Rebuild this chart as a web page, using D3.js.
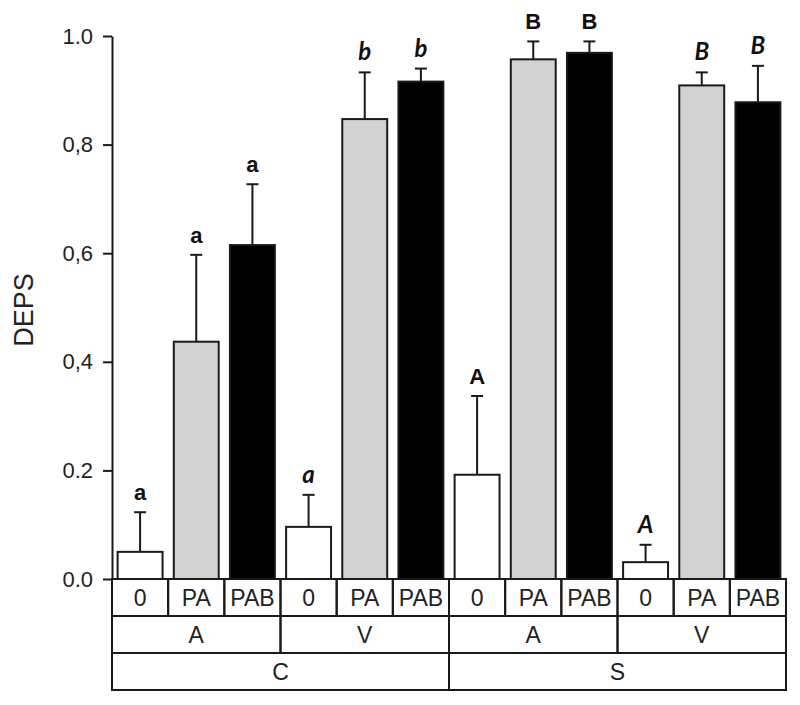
<!DOCTYPE html>
<html>
<head>
<meta charset="utf-8">
<script src="https://cdn.jsdelivr.net/npm/d3@7"></script>
<style>
  body { margin: 0; background: #fff; }
  svg { display: block; font-family: "Liberation Sans", Arial, sans-serif; }
</style>
</head>
<body>
<div id="chart"></div>
<script>
// treatment per bar, grouped by inner (A/V) and outer (C/S) factors
const treatments = ['0', 'PA', 'PAB', '0', 'PA', 'PAB', '0', 'PA', 'PAB', '0', 'PA', 'PAB'];
const innerGroups = ['A', 'V', 'A', 'V'];
const outerGroups = ['C', 'S'];
const means = [0.050, 0.437, 0.615, 0.096, 0.847, 0.916, 0.192, 0.957, 0.969, 0.031, 0.909, 0.878];
const errors = [0.073, 0.160, 0.112, 0.059, 0.086, 0.024, 0.145, 0.033, 0.021, 0.032, 0.024, 0.067];
const letters = ['a', 'a', 'a', 'a', 'b', 'b', 'A', 'B', 'B', 'A', 'B', 'B'];
const italicLetter = [false, false, false, true, true, true, false, false, false, true, true, true];
const yTicks = [0, 0.2, 0.4, 0.6, 0.8, 1.0];
const yTickLabels = ['0.0', '0.2', '0,4', '0,6', '0,8', '1.0'];

const width = 800, height = 705;
const plotLeft = 112, plotRight = 786, plotTop = 36, plotBase = 579, rowH = 37;
const ink = '#1a1a1a';

const svg = d3.select('#chart').append('svg')
  .attr('width', width).attr('height', height);

const x = d3.scaleBand()
  .domain(d3.range(means.length))
  .range([plotLeft, plotRight])
  .paddingInner(0.2)
  .paddingOuter(0.1);
const step = x.step();

const y = d3.scaleLinear().domain([0, 1]).range([plotBase, plotTop]);

const fills = { '0': '#ffffff', 'PA': '#d2d2d2', 'PAB': '#000000' };

// error bars (drawn first, so bar outline covers the stem base)
const eb = svg.append('g').attr('stroke', ink).attr('stroke-width', 2);
means.forEach((m, i) => {
  const cx = x(i) + x.bandwidth() / 2;
  eb.append('line').attr('x1', cx).attr('x2', cx)
    .attr('y1', y(m)).attr('y2', y(m + errors[i]));
  eb.append('line').attr('x1', cx - 6).attr('x2', cx + 6)
    .attr('y1', y(m + errors[i])).attr('y2', y(m + errors[i]));
});

svg.append('g')
  .selectAll('rect')
  .data(means)
  .join('rect')
    .attr('x', (d, i) => x(i))
    .attr('y', d => y(d))
    .attr('width', x.bandwidth())
    .attr('height', d => y(0) - y(d))
    .attr('fill', (d, i) => fills[treatments[i]])
    .attr('stroke', ink)
    .attr('stroke-width', 2);

// significance letters
svg.append('g')
  .selectAll('text')
  .data(letters)
  .join('text')
    .attr('x', (d, i) => x(i) + x.bandwidth() / 2)
    .attr('y', (d, i) => y(means[i] + errors[i]) - 12)
    .attr('text-anchor', 'middle')
    .attr('font-weight', 'bold')
    .attr('font-size', (d, i) => italicLetter[i] ? 24 : 22)
    .attr('font-style', (d, i) => italicLetter[i] ? 'italic' : 'normal')
    .attr('font-family', (d, i) => italicLetter[i] ? 'Lato, sans-serif' : '"Liberation Sans", Arial, sans-serif')
    .attr('fill', '#111')
    .text(d => d);

// y axis
const yAxis = svg.append('g')
  .attr('transform', `translate(${plotLeft},0)`)
  .call(d3.axisLeft(y).tickValues(yTicks)
    .tickFormat((d, i) => yTickLabels[i])
    .tickSize(9).tickPadding(10).tickSizeOuter(0));
yAxis.select('.domain').attr('stroke', ink).attr('stroke-width', 2);
yAxis.selectAll('.tick line').attr('stroke', ink).attr('stroke-width', 2);
yAxis.selectAll('.tick text')
  .attr('font-size', 22)
  .attr('font-family', '"Liberation Sans", Arial, sans-serif')
  .attr('fill', '#222');

svg.append('text')
  .attr('transform', `translate(33,310) rotate(-90)`)
  .attr('text-anchor', 'middle')
  .attr('font-size', 27)
  .attr('fill', '#222')
  .text('DEPS');

// category table below the axis
const table = svg.append('g');
function cellRow(labels, span, row) {
  labels.forEach((lab, j) => {
    const x0 = plotLeft + j * span * step;
    const y0 = plotBase + row * rowH;
    table.append('rect')
      .attr('x', x0).attr('y', y0)
      .attr('width', span * step).attr('height', rowH)
      .attr('fill', 'none').attr('stroke', ink).attr('stroke-width', 2);
    table.append('text')
      .attr('x', x0 + span * step / 2).attr('y', y0 + rowH / 2 + 8)
      .attr('text-anchor', 'middle')
      .attr('font-size', 23)
      .attr('fill', '#222')
      .text(lab);
  });
}
cellRow(treatments, 1, 0);
cellRow(innerGroups, 3, 1);
cellRow(outerGroups, 6, 2);
</script>
</body>
</html>
